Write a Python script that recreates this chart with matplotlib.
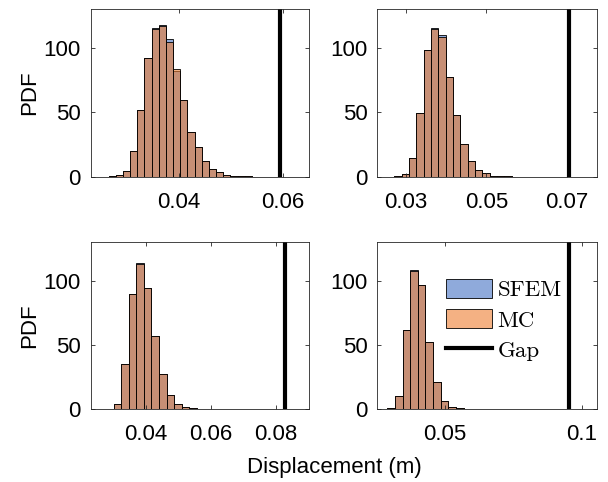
import numpy as np
import matplotlib
matplotlib.use("Agg")
import matplotlib.pyplot as plt
from matplotlib.colors import to_rgba
from matplotlib.patches import Patch
from matplotlib.lines import Line2D

# histogram bins (left edge of first bin, bin width) and PDF heights per case
case1_start, case1_width = 0.02645, 0.00138
case1_sfem = [0.5, 1.3, 4.7, 20, 51.6, 92, 115.6, 117.5, 106.8, 81.8, 59.4, 34.7,
              23, 12.5, 6, 3.4, 1.6, 0.6, 0.4, 0.2, 0.1, 0.1]
case1_mc = [0.5, 1.3, 4.7, 20, 51.6, 92, 114.6, 117.2, 104.2, 83.4, 59.4, 34.7,
            23, 12.5, 6, 3.4, 1.6, 0.6, 0.4, 0.2, 0.1, 0.1]
case1_gap = 0.0594
case1_xlim = (0.0230, 0.0651)
case1_xticks = [0.04, 0.06]

case2_start, case2_width = 0.02716, 0.00182
case2_sfem = [0.5, 2, 14.3, 49.5, 98.2, 115.1, 109.7, 77.6, 48.2, 25.5, 12.5, 5,
              2.6, 0.8, 0.4, 0.2, 0.1, 0.05]
case2_mc = [0.5, 2, 14.3, 49.5, 98.2, 114.6, 108.6, 77.6, 48.2, 25.5, 12.5, 5,
            2.6, 0.8, 0.4, 0.2, 0.1, 0.05]
case2_gap = 0.0706
case2_xlim = (0.0229, 0.0776)
case2_xticks = [0.03, 0.05, 0.07]

case3_start, case3_width = 0.02775, 0.00233
case3_sfem = [0.3, 4.1, 34.8, 89.6, 114, 94.5, 56.9, 27.5, 10.7, 4.2, 1.3, 0.5,
              0.3, 0.2, 0.1, 0.1]
case3_mc = [0.3, 4.1, 34.8, 89.6, 113, 94.5, 56.9, 27.5, 10.7, 4.2, 1.3, 0.5,
            0.3, 0.2, 0.1, 0.1]
case3_gap = 0.0827
case3_xlim = (0.02305, 0.0903)
case3_xticks = [0.04, 0.06, 0.08]

case4_start, case4_width = 0.02888, 0.00279
case4_sfem = [0.8, 10.4, 61.8, 108, 96.6, 52.4, 21.3, 6.5, 1.8, 0.6, 0.3, 0.1, 0.1]
case4_mc = [0.8, 10.4, 61.8, 107.7, 96.6, 52.4, 21.3, 6.5, 1.8, 0.6, 0.3, 0.1, 0.1]
case4_gap = 0.0955
case4_xlim = (0.0252, 0.1057)
case4_xticks = [0.05, 0.1]
case4_xticklabels = ["0.05", "0.1"]

blue = to_rgba("#4472C4", 0.6)
orange = to_rgba("#ED7D31", 0.6)
axcol = "#262626"

plt.rcParams["font.family"] = ["Liberation Sans", "DejaVu Sans"]
plt.rcParams["font.size"] = 16

fig = plt.figure(figsize=(6.08, 4.82), dpi=100)
W, H = 608.0, 482.0


def make_ax(x0, x1, y0, y1):
    return fig.add_axes([x0 / W, 1 - y1 / H, (x1 - x0) / W, (y1 - y0) / H])


axs = [make_ax(90.7, 309.3, 9, 176.7), make_ax(377.3, 597.3, 9, 176.7),
       make_ax(90.7, 309.3, 242, 409), make_ax(377.3, 597.3, 242, 409)]

cases = [
    (case1_start, case1_width, case1_sfem, case1_mc, case1_gap, case1_xlim, case1_xticks, None),
    (case2_start, case2_width, case2_sfem, case2_mc, case2_gap, case2_xlim, case2_xticks, None),
    (case3_start, case3_width, case3_sfem, case3_mc, case3_gap, case3_xlim, case3_xticks, None),
    (case4_start, case4_width, case4_sfem, case4_mc, case4_gap, case4_xlim, case4_xticks,
     case4_xticklabels),
]

for ax, (start, width, sfem, mc, gap, xlim, xticks, xtl) in zip(axs, cases):
    left = start + width * np.arange(len(sfem))
    ax.bar(left, sfem, width=width, align="edge", color=blue, edgecolor="black", linewidth=0.6)
    ax.bar(left, mc, width=width, align="edge", color=orange, edgecolor="black", linewidth=0.6)
    ax.axvline(gap, color="black", linewidth=3)
    ax.set_xlim(xlim)
    ax.set_ylim(0, 130)
    ax.set_xticks(xticks)
    if xtl is not None:
        ax.set_xticklabels(xtl)
    ax.set_yticks([0, 50, 100])
    ax.tick_params(direction="in", top=True, right=True, length=3, width=0.6,
                   color=axcol, labelcolor="black")
    ax.tick_params(axis="x", pad=11)
    ax.tick_params(axis="y", pad=7)
    for s in ax.spines.values():
        s.set_color(axcol)
        s.set_linewidth(0.6)

fig.text(30 / W, 1 - 92.8 / H, "PDF", rotation=90, ha="center", va="center", fontsize=16)
fig.text(30 / W, 1 - 325.5 / H, "PDF", rotation=90, ha="center", va="center", fontsize=16)
fig.text(334 / W, 1 - 468 / H, "Displacement (m)", ha="center", va="center", fontsize=16)

handles = [Patch(facecolor=blue, edgecolor="black", linewidth=0.6),
           Patch(facecolor=orange, edgecolor="black", linewidth=0.6),
           Line2D([], [], color="black", linewidth=3)]
axs[3].legend(handles, ["SFEM", "MC", "Gap"], loc="upper left",
              bbox_to_anchor=(446 / W, 1 - 279 / H), bbox_transform=fig.transFigure,
              frameon=False, borderpad=0, borderaxespad=0,
              prop={"family": "cmr10", "size": 16.5},
              handlelength=2.0, handleheight=0.9, handletextpad=0.25, labelspacing=0.38)

fig.savefig("out.png", dpi=100)
